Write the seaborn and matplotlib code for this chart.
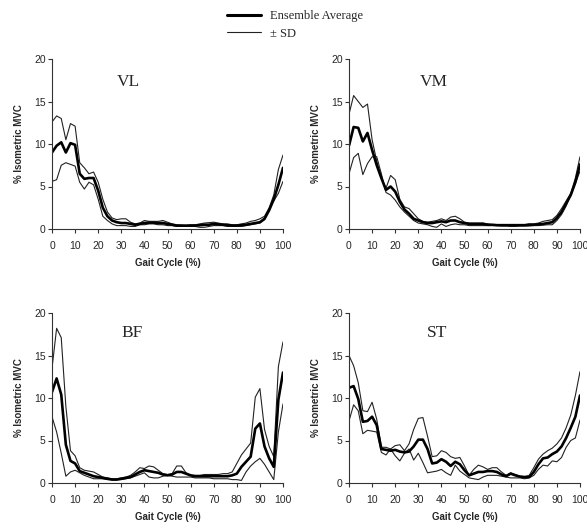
import numpy as np
import pandas as pd
import matplotlib
matplotlib.use("Agg")
import matplotlib.pyplot as plt
from matplotlib.lines import Line2D
import seaborn as sns

# ---------------- data ----------------
gait = list(range(0, 101, 2))

vl_avg = [9.0, 9.8, 10.2, 9.0, 10.1, 9.9, 6.5, 5.9, 6.0, 6.0,
          4.5, 2.5, 1.5, 1.0, 0.8, 0.7, 0.7, 0.6, 0.5, 0.6,
          0.7, 0.75, 0.75, 0.7, 0.7, 0.6, 0.5, 0.4, 0.4, 0.4,
          0.4, 0.4, 0.45, 0.5, 0.5, 0.6, 0.55, 0.5, 0.45, 0.4,
          0.4, 0.45, 0.5, 0.6, 0.7, 0.8, 1.2, 2.2, 3.5, 5.2,
          7.2]
vl_up = [12.6, 13.3, 13.0, 10.5, 12.4, 12.1, 7.8, 7.2, 6.5, 6.7,
         5.5, 3.5, 2.0, 1.3, 1.1, 1.2, 1.2, 0.8, 0.6, 0.7,
         1.0, 0.9, 0.9, 0.9, 1.0, 0.8, 0.6, 0.5, 0.45, 0.4,
         0.5, 0.5, 0.6, 0.7, 0.75, 0.8, 0.7, 0.6, 0.6, 0.5,
         0.5, 0.6, 0.7, 0.9, 1.0, 1.2, 1.5, 2.5, 4.0, 7.0,
         8.7]
vl_lo = [5.6, 5.8, 7.5, 7.8, 7.6, 7.4, 5.5, 4.7, 5.5, 5.2,
         3.5, 1.5, 1.0, 0.6, 0.4, 0.4, 0.4, 0.3, 0.3, 0.5,
         0.5, 0.6, 0.6, 0.5, 0.5, 0.4, 0.4, 0.3, 0.3, 0.3,
         0.3, 0.3, 0.2, 0.2, 0.3, 0.4, 0.4, 0.4, 0.3, 0.3,
         0.3, 0.3, 0.4, 0.5, 0.6, 0.7, 1.1, 2.4, 3.3, 4.2,
         5.6]

vm_avg = [9.8, 12.0, 11.9, 10.3, 11.3, 9.3, 7.5, 6.0, 4.6, 5.0,
          4.4, 3.2, 2.3, 1.8, 1.2, 1.0, 0.8, 0.7, 0.7, 0.8,
          0.9, 0.8, 1.0, 1.0, 0.8, 0.7, 0.6, 0.6, 0.6, 0.6,
          0.5, 0.5, 0.45, 0.45, 0.45, 0.45, 0.45, 0.45, 0.45, 0.5,
          0.5, 0.55, 0.6, 0.7, 0.8, 1.3, 2.0, 3.0, 4.0, 5.5,
          7.6]
vm_up = [13.5, 15.7, 15.0, 14.3, 14.7, 10.5, 8.0, 6.0, 4.8, 6.3,
         5.8, 3.5, 2.6, 2.4, 1.8, 1.2, 0.9, 0.8, 0.9, 1.0,
         1.2, 1.0, 1.4, 1.5, 1.2, 0.8, 0.7, 0.7, 0.7, 0.7,
         0.6, 0.5, 0.5, 0.5, 0.5, 0.5, 0.5, 0.5, 0.5, 0.6,
         0.6, 0.7, 0.9, 1.0, 1.1, 1.6, 2.4, 3.3, 4.2, 6.0,
         8.5]
vm_lo = [6.5, 8.4, 8.9, 6.4, 7.7, 8.5, 8.5, 6.5, 4.3, 4.0,
         3.4, 2.6, 2.0, 1.5, 1.0, 0.7, 0.6, 0.5, 0.3, 0.2,
         0.6, 0.3, 0.5, 0.6, 0.5, 0.5, 0.4, 0.4, 0.4, 0.4,
         0.4, 0.4, 0.4, 0.35, 0.35, 0.3, 0.3, 0.35, 0.35, 0.35,
         0.4, 0.4, 0.45, 0.5, 0.5, 1.0, 1.7, 2.7, 4.0, 5.4,
         6.8]

bf_avg = [10.7, 12.3, 10.4, 4.5, 2.6, 2.3, 1.4, 1.2, 1.0, 0.8,
          0.7, 0.6, 0.5, 0.4, 0.4, 0.5, 0.6, 0.7, 1.0, 1.3,
          1.5, 1.4, 1.3, 1.2, 1.0, 0.9, 1.0, 1.3, 1.3, 1.1,
          0.9, 0.8, 0.8, 0.8, 0.8, 0.8, 0.8, 0.8, 0.8, 0.9,
          1.1, 1.9, 2.5, 3.1, 6.4, 7.0, 4.3, 2.9, 1.9, 9.8,
          13.0]
bf_up = [13.5, 18.2, 17.1, 9.0, 3.8, 3.2, 1.8, 1.5, 1.4, 1.3,
         1.0, 0.7, 0.6, 0.5, 0.5, 0.6, 0.7, 0.9, 1.3, 1.8,
         1.7, 2.0, 1.9, 1.5, 1.1, 1.0, 1.1, 2.0, 2.0, 1.2,
         0.9, 0.9, 0.9, 1.0, 1.0, 1.0, 1.0, 1.1, 1.1, 1.3,
         2.3, 3.3, 4.0, 4.7, 10.1, 11.1, 6.3, 4.3, 3.1, 13.7,
         16.6]
bf_lo = [7.8, 6.0, 3.5, 0.8, 1.3, 1.5, 1.2, 0.9, 0.7, 0.5,
         0.5, 0.5, 0.4, 0.4, 0.4, 0.4, 0.5, 0.6, 0.8, 1.0,
         1.2, 0.7, 0.6, 0.6, 0.8, 0.9, 0.8, 0.7, 0.7, 0.7,
         0.7, 0.6, 0.6, 0.6, 0.6, 0.5, 0.5, 0.5, 0.5, 0.4,
         0.4, 0.3, 1.3, 2.0, 2.5, 2.9, 2.2, 1.3, 0.4, 6.0,
         9.3]

st_avg = [11.2, 11.4, 9.9, 7.2, 7.3, 7.8, 6.8, 4.0, 3.9, 3.8,
          3.9, 3.7, 3.6, 3.7, 4.3, 5.1, 5.1, 4.0, 2.3, 2.4,
          2.8, 2.5, 2.0, 2.5, 2.2, 1.5, 0.9, 1.1, 1.3, 1.3,
          1.4, 1.4, 1.3, 1.0, 0.8, 1.1, 0.9, 0.75, 0.7, 0.7,
          1.3, 2.2, 2.9, 3.0, 3.4, 3.7, 4.3, 5.3, 6.5, 7.8,
          10.3]
st_up = [15.0, 13.8, 11.8, 8.5, 8.4, 9.5, 7.5, 4.2, 4.2, 4.0,
         4.4, 4.5, 3.8, 4.6, 6.3, 7.6, 7.7, 5.5, 3.1, 3.2,
         3.8, 3.6, 3.1, 2.9, 3.0, 2.0, 0.9, 1.6, 2.1, 1.9,
         1.6, 1.8, 1.8, 1.3, 0.9, 1.2, 1.0, 0.8, 0.75, 0.9,
         1.8, 2.8, 3.4, 3.8, 4.1, 4.6, 5.3, 6.5, 8.0, 10.3,
         13.1]
st_lo = [7.3, 9.2, 8.5, 5.8, 6.2, 6.1, 6.0, 3.6, 3.3, 4.0,
         3.2, 2.6, 3.5, 4.0, 2.7, 3.5, 2.4, 1.2, 1.3, 1.4,
         1.6, 1.2, 0.9, 2.1, 1.4, 1.0, 0.6, 0.5, 0.4, 0.7,
         0.9, 0.9, 0.9, 0.8, 0.7, 0.6, 0.6, 0.6, 0.5, 0.6,
         0.9, 1.6, 2.1, 2.0, 2.6, 2.5, 3.0, 4.2, 5.0, 5.3,
         7.4]

muscles = ["VL", "VM", "BF", "ST"]
xticks = list(range(0, 101, 10))
yticks = [0, 5, 10, 15, 20]
xlabel = "Gait Cycle (%)"
ylabel = "% Isometric MVC"
legend_labels = ["Ensemble Average", "\u00b1 SD"]

series = {
    "VL": (vl_avg, vl_up, vl_lo),
    "VM": (vm_avg, vm_up, vm_lo),
    "BF": (bf_avg, bf_up, bf_lo),
    "ST": (st_avg, st_up, st_lo),
}

# ---------------- style ----------------
sns.set_style("ticks")
plt.rcParams["font.family"] = ["Liberation Sans", "DejaVu Sans"]

W, H = 587, 528
fig = plt.figure(figsize=(W / 100, H / 100), dpi=100)

# axes pixel boxes: (left, right, top(y=20), bottom(y=0))
boxes = {
    "VL": (52, 283, 59, 229),
    "VM": (349, 580, 59, 229),
    "BF": (52, 283, 313, 483),
    "ST": (349, 580, 313, 483),
}
title_pos = {"VL": (0.33, 0.865), "VM": (0.365, 0.866),
             "BF": (0.345, 0.88), "ST": (0.38, 0.88)}

for m in muscles:
    l, r, t, b = boxes[m]
    ax = fig.add_axes([l / W, 1 - b / H, (r - l) / W, (b - t) / H])
    avg, up, lo = series[m]
    df = pd.DataFrame({"x": gait, "avg": avg, "up": up, "lo": lo})
    sns.lineplot(data=df, x="x", y="up", ax=ax, color="#222222", linewidth=0.8)
    sns.lineplot(data=df, x="x", y="lo", ax=ax, color="#222222", linewidth=0.8)
    sns.lineplot(data=df, x="x", y="avg", ax=ax, color="black", linewidth=1.9)
    ax.set_xlim(0, 100)
    ax.set_ylim(0, 20)
    ax.set_xticks(xticks)
    ax.set_yticks(yticks)
    ax.tick_params(axis="x", length=3, width=0.8, pad=5.5, labelsize=7.5, color="#333333")
    ax.tick_params(axis="y", length=3, width=0.8, pad=1.5, labelsize=7.5, color="#333333")
    for s in ["top", "right"]:
        ax.spines[s].set_visible(False)
    for s in ["left", "bottom"]:
        ax.spines[s].set_linewidth(0.8)
        ax.spines[s].set_color("#333333")
    ax.set_xlabel(xlabel, fontsize=7, fontweight="bold", labelpad=5)
    ax.set_ylabel(ylabel, fontsize=7, fontweight="bold", labelpad=7)
    ax.text(title_pos[m][0], title_pos[m][1], m, transform=ax.transAxes,
            ha="center", va="center", fontsize=12.5, family="Liberation Serif")

handles = [Line2D([], [], color="black", linewidth=2.2),
           Line2D([], [], color="#222222", linewidth=0.8)]
fig.legend(handles, legend_labels, loc="upper left",
           bbox_to_anchor=(227 / W, 1 - 10 / H), frameon=False,
           borderpad=0, borderaxespad=0, handlelength=2.7, handletextpad=0.7,
           labelspacing=0.45, prop={"family": "Liberation Serif", "size": 9})

fig.savefig("out.png", dpi=100)
